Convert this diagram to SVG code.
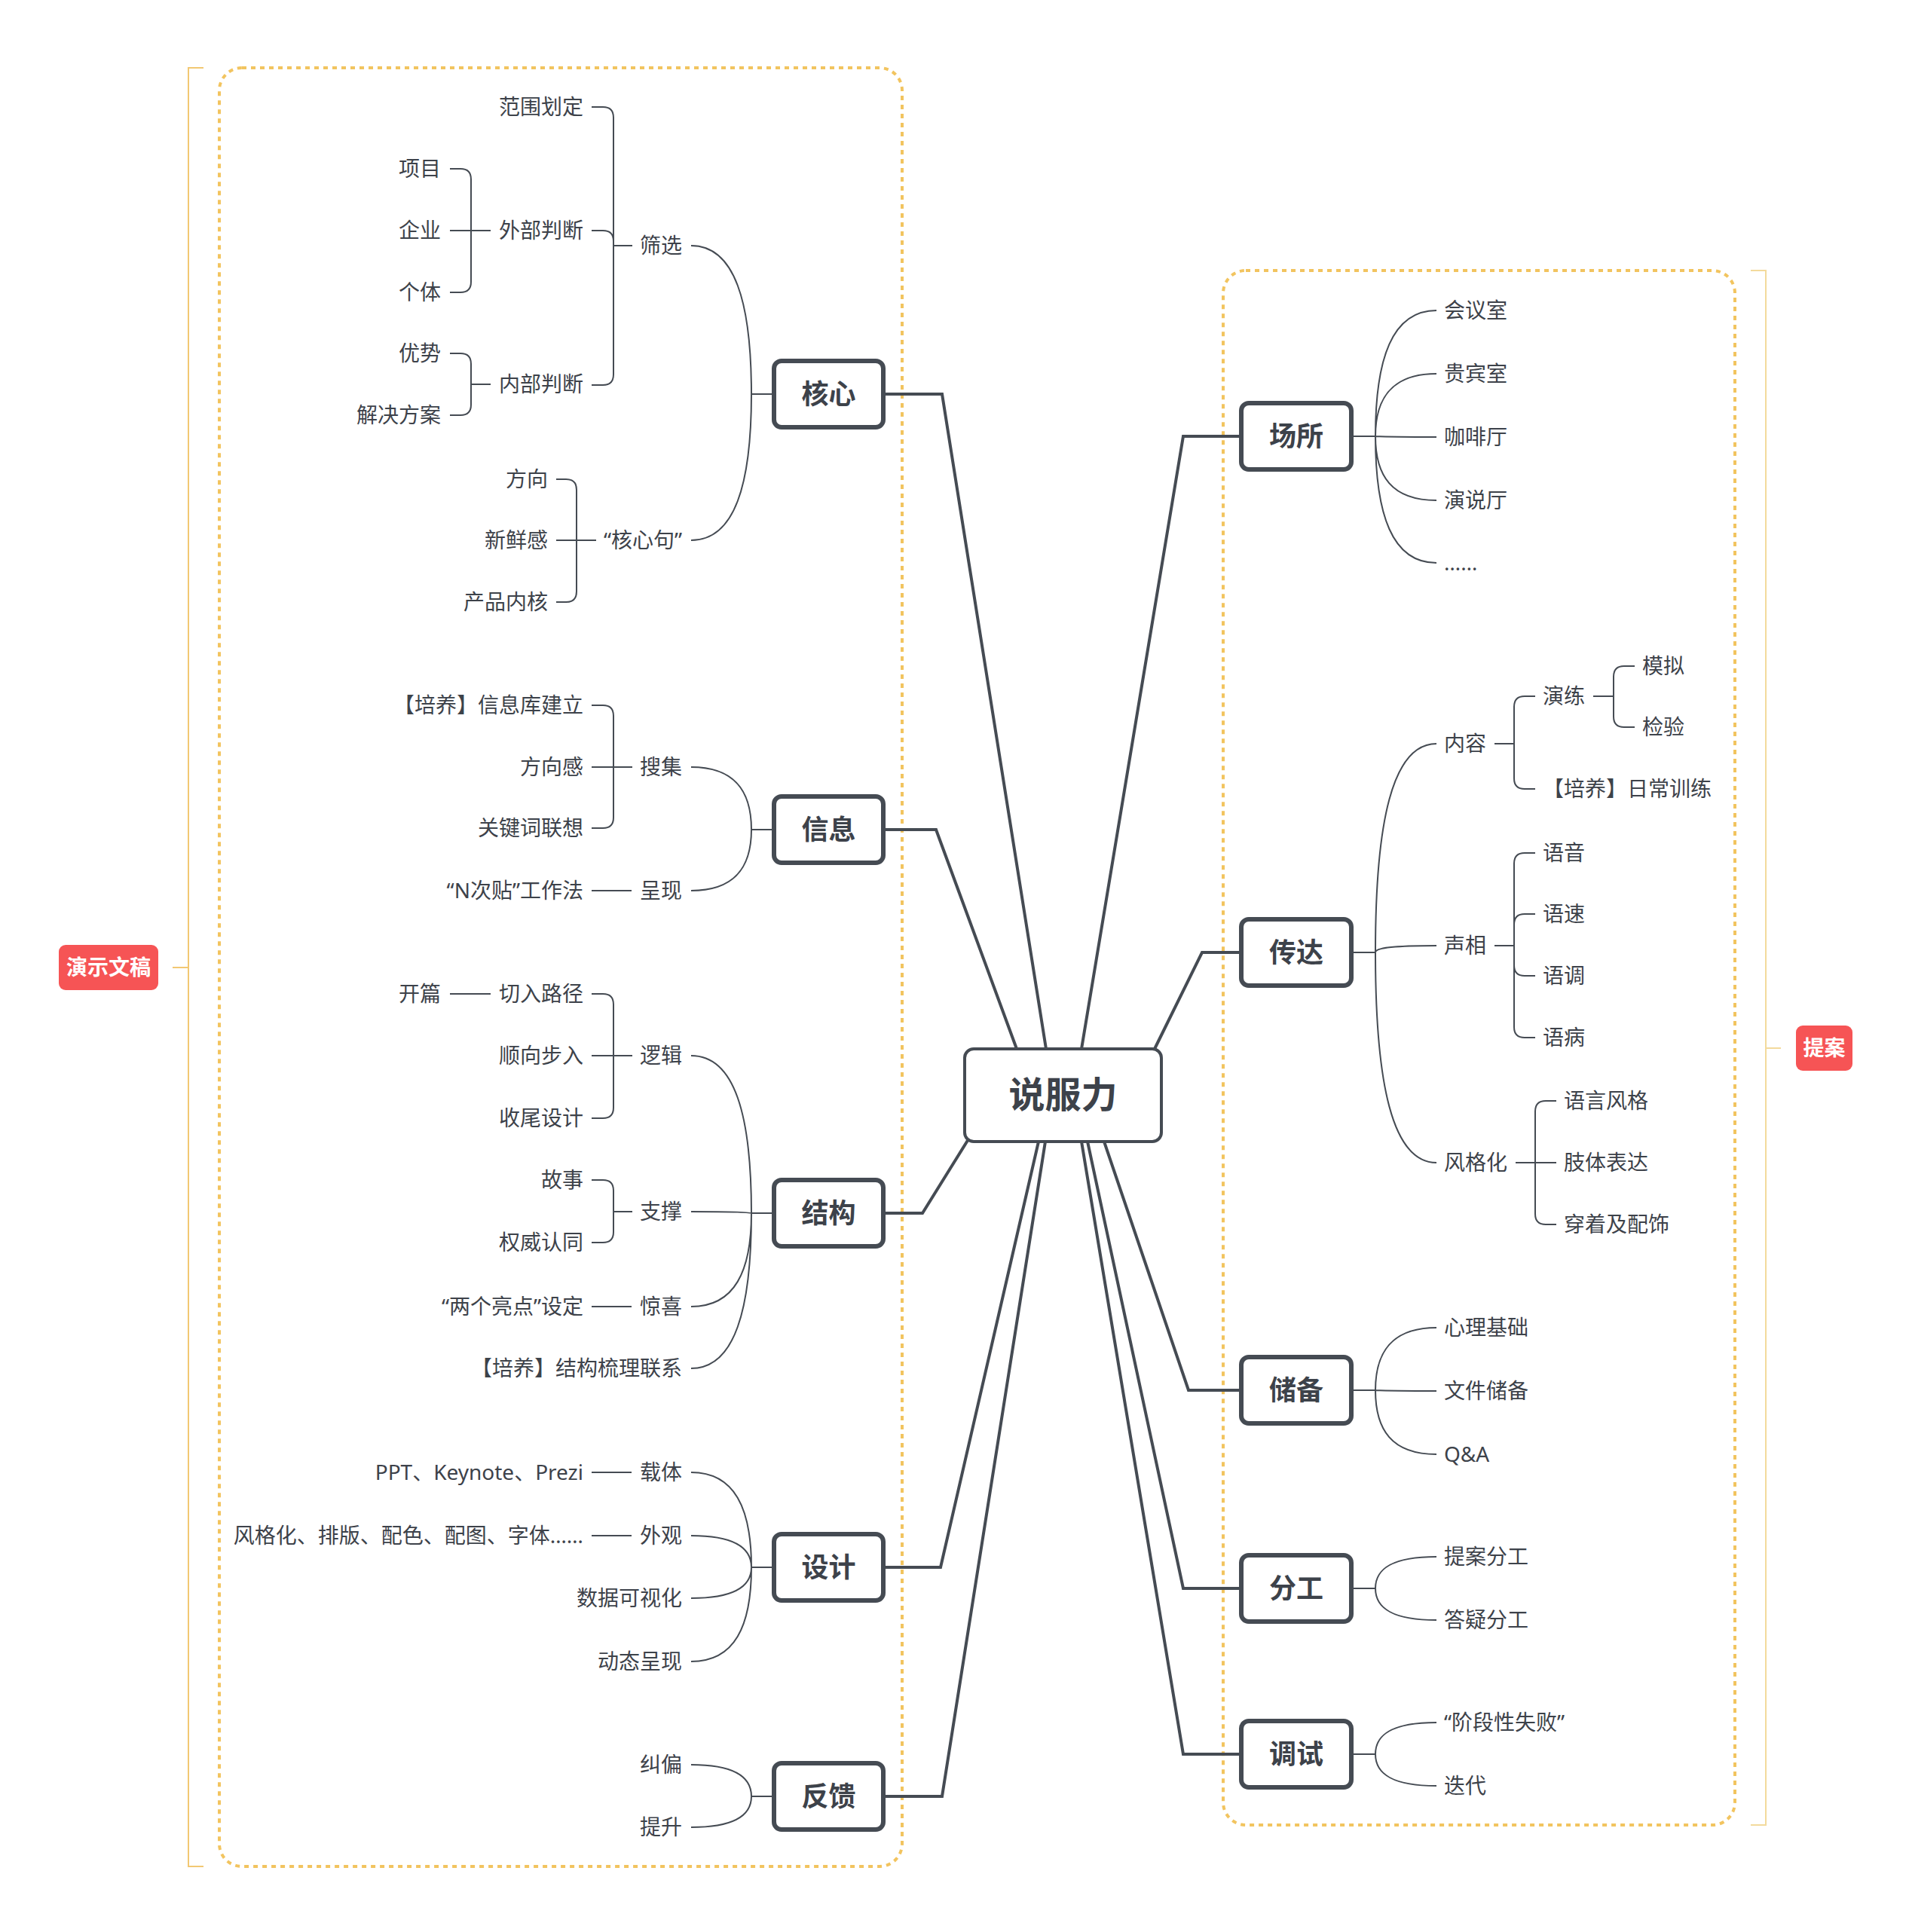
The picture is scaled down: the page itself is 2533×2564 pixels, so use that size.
<svg xmlns="http://www.w3.org/2000/svg" width="2533" height="2564" viewBox="0 0 2533 2564">
<style>
.t{font-family:"Noto Sans","Noto Sans CJK SC",sans-serif;font-size:28px;fill:#3D424A}
.e{text-anchor:end}
.bx{fill:#fff;stroke:#454B53;stroke-width:6}
.bt{font-family:"Noto Sans CJK SC",sans-serif;font-size:36px;font-weight:bold;fill:#3D424A;text-anchor:middle}
.ct{font-family:"Noto Sans CJK SC",sans-serif;font-size:48px;font-weight:bold;fill:#3D424A;text-anchor:middle}
.lb{fill:#F65455}
.lt{font-family:"Noto Sans CJK SC",sans-serif;font-size:28px;font-weight:bold;fill:#fff;text-anchor:middle}
.thin{fill:none;stroke:#454B53;stroke-width:2}
.main{fill:none;stroke:#454B53;stroke-width:4;stroke-linejoin:miter}
.dot{fill:none;stroke:#F2C45F;stroke-width:4;stroke-dasharray:6 6}
</style>
<rect width="2533" height="2564" fill="#fff"/>
<g id="boundaries">
<rect id="boundary-left" class="dot" x="291" y="90" width="906" height="2387" rx="30"/>
<rect id="boundary-right" class="dot" x="1623" y="359" width="679" height="2063" rx="30"/>
<path d="M270 90 H250 V2477 H270 M250 1284 H229" fill="none" stroke="#F2C873" stroke-width="2"/>
<path d="M2323 359 H2343 V2422 H2323 M2343 1391 H2363" fill="none" stroke="#F3DA9C" stroke-width="2"/>
</g>
<g id="connectors">
<g class="main">
<path d="M1388 1392 L1250 523 H1175"/>
<path d="M1349 1392 L1242 1101 H1175"/>
<path d="M1288 1507 L1224 1610 H1175"/>
<path d="M1378 1515 L1248 2080 H1175"/>
<path d="M1387 1515 L1250 2384 H1175"/>
<path d="M1435 1392 L1570 579 H1644"/>
<path d="M1532 1392 L1595 1264 H1644"/>
<path d="M1465 1515 L1577 1845 H1644"/>
<path d="M1443 1515 L1570 2108 H1644"/>
<path d="M1435 1515 L1570 2328 H1644"/>
</g>
<g class="thin">
<path d="M1027 523 H997 M917 326 C975 326 997 401 997 523 M917 717 C975 717 997 643 997 523"/>
<path d="M1027 1101 H997 M917 1018 C975 1018 997 1050 997 1101 M917 1182 C975 1182 997 1151 997 1101"/>
<path d="M1027 1610 H997 M917 1401 C975 1401 997 1480 997 1610 M917 1608 C975 1608 997 1609 997 1610 M917 1734 C975 1734 997 1687 997 1610 M917 1816 C975 1816 997 1738 997 1610"/>
<path d="M1027 2080 H997 M917 1954 C975 1954 997 2002 997 2080 M917 2038 C975 2038 997 2054 997 2080 M917 2121 C975 2121 997 2105 997 2080 M917 2205 C975 2205 997 2158 997 2080"/>
<path d="M1027 2384 H997 M917 2342 C975 2342 997 2358 997 2384 M917 2425 C975 2425 997 2409 997 2384"/>
<path d="M1793 579 H1825 M1906 412 C1847 412 1825 476 1825 579 M1906 496 C1847 496 1825 528 1825 579 M1906 580 C1847 580 1825 579 1825 579 M1906 664 C1847 664 1825 632 1825 579 M1906 747 C1847 747 1825 683 1825 579"/>
<path d="M1793 1264 H1825 M1906 987 C1847 987 1825 1092 1825 1264 M1906 1255 C1847 1255 1825 1258 1825 1264 M1906 1543 C1847 1543 1825 1437 1825 1264"/>
<path d="M1793 1845 H1825 M1906 1762 C1847 1762 1825 1794 1825 1845 M1906 1846 C1847 1846 1825 1845 1825 1845 M1906 1930 C1847 1930 1825 1898 1825 1845"/>
<path d="M1793 2108 H1825 M1906 2066 C1847 2066 1825 2082 1825 2108 M1906 2150 C1847 2150 1825 2134 1825 2108"/>
<path d="M1793 2328 H1825 M1906 2286 C1847 2286 1825 2302 1825 2328 M1906 2370 C1847 2370 1825 2354 1825 2328"/>
<path d="M785 142 H800 Q814 142 814 156 V497 Q814 511 800 511 H785 M785 306 H800 Q814 306 814 320 M814 326 H839"/>
<path d="M597 224 H611 Q625 224 625 238 V374 Q625 388 611 388 H597 M597 306 H651"/>
<path d="M597 469 H611 Q625 469 625 483 V537 Q625 551 611 551 H597 M625 510 H651"/>
<path d="M738 636 H751 Q765 636 765 650 V785 Q765 799 751 799 H738 M738 717 H791"/>
<path d="M785 936 H800 Q814 936 814 950 V1085 Q814 1099 800 1099 H785 M785 1018 H839"/>
<path d="M785 1182 H838"/>
<path d="M597 1319 H651"/>
<path d="M785 1319 H800 Q814 1319 814 1333 V1470 Q814 1484 800 1484 H785 M785 1401 H839"/>
<path d="M785 1566 H800 Q814 1566 814 1580 V1635 Q814 1649 800 1649 H785 M814 1608 H839"/>
<path d="M785 1734 H838"/>
<path d="M785 1954 H838"/>
<path d="M785 2038 H838"/>
<path d="M2037 924 H2023 Q2009 924 2009 938 V1033 Q2009 1047 2023 1047 H2037 M1983 987 H2009"/>
<path d="M2169 884 H2155 Q2141 884 2141 898 V951 Q2141 965 2155 965 H2169 M2114 924 H2141"/>
<path d="M2037 1132 H2023 Q2009 1132 2009 1146 V1363 Q2009 1377 2023 1377 H2037 M2037 1213 H2023 Q2009 1213 2009 1227 M2037 1295 H2023 Q2009 1295 2009 1281 M1983 1255 H2009"/>
<path d="M2065 1461 H2051 Q2037 1461 2037 1475 V1611 Q2037 1625 2051 1625 H2065 M2011 1543 H2065"/>
</g>
</g>
<g id="root">
<rect x="1280" y="1392" width="261" height="123" rx="12" fill="#fff" stroke="#454B53" stroke-width="4"/>
<text class="ct" x="1410.5" y="1470">说服力</text>
</g>
<g id="label-left"><rect class="lb" x="78" y="1254" width="132" height="60" rx="9"/><text class="lt" x="144" y="1294">演示文稿</text></g>
<g id="label-right"><rect class="lb" x="2383" y="1361" width="75" height="60" rx="9"/><text class="lt" x="2420.5" y="1401">提案</text></g>
<g id="n-hexin"><rect class="bx" x="1027" y="479" width="145" height="88" rx="10"/><text class="bt" x="1099.5" y="536">核心</text></g>
<g id="n-xinxi"><rect class="bx" x="1027" y="1057" width="145" height="88" rx="10"/><text class="bt" x="1099.5" y="1114">信息</text></g>
<g id="n-jiegou"><rect class="bx" x="1027" y="1566" width="145" height="88" rx="10"/><text class="bt" x="1099.5" y="1623">结构</text></g>
<g id="n-sheji"><rect class="bx" x="1027" y="2036" width="145" height="88" rx="10"/><text class="bt" x="1099.5" y="2093">设计</text></g>
<g id="n-fankui"><rect class="bx" x="1027" y="2340" width="145" height="88" rx="10"/><text class="bt" x="1099.5" y="2397">反馈</text></g>
<g id="n-changsuo"><rect class="bx" x="1647" y="535" width="146" height="88" rx="10"/><text class="bt" x="1720" y="592">场所</text></g>
<g id="n-chuanda"><rect class="bx" x="1647" y="1220" width="146" height="88" rx="10"/><text class="bt" x="1720" y="1277">传达</text></g>
<g id="n-chubei"><rect class="bx" x="1647" y="1801" width="146" height="88" rx="10"/><text class="bt" x="1720" y="1858">储备</text></g>
<g id="n-fengong"><rect class="bx" x="1647" y="2064" width="146" height="88" rx="10"/><text class="bt" x="1720" y="2121">分工</text></g>
<g id="n-tiaoshi"><rect class="bx" x="1647" y="2284" width="146" height="88" rx="10"/><text class="bt" x="1720" y="2341">调试</text></g>
<g id="leaves-left">
<g id="n-shaixuan"><text class="t e" x="905" y="336">筛选</text></g>
<g id="n-hexinju"><text class="t e" x="905" y="727">“核心句”</text></g>
<g id="n-souji"><text class="t e" x="905" y="1028">搜集</text></g>
<g id="n-chengxian"><text class="t e" x="905" y="1192">呈现</text></g>
<g id="n-luoji"><text class="t e" x="905" y="1411">逻辑</text></g>
<g id="n-zhicheng"><text class="t e" x="905" y="1618">支撑</text></g>
<g id="n-jingxi"><text class="t e" x="905" y="1744">惊喜</text></g>
<g id="n-jgsl"><text class="t e" x="905" y="1826">【培养】结构梳理联系</text></g>
<g id="n-zaiti"><text class="t e" x="905" y="1964">载体</text></g>
<g id="n-waiguan"><text class="t e" x="905" y="2048">外观</text></g>
<g id="n-sjksh"><text class="t e" x="905" y="2131">数据可视化</text></g>
<g id="n-dtcx"><text class="t e" x="905" y="2215">动态呈现</text></g>
<g id="n-jiupian"><text class="t e" x="905" y="2352">纠偏</text></g>
<g id="n-tisheng"><text class="t e" x="905" y="2435">提升</text></g>
<g id="n-fwhd"><text class="t e" x="774" y="152">范围划定</text></g>
<g id="n-wbpd"><text class="t e" x="774" y="316">外部判断</text></g>
<g id="n-nbpd"><text class="t e" x="774" y="520">内部判断</text></g>
<g id="n-xxk"><text class="t e" x="774" y="946">【培养】信息库建立</text></g>
<g id="n-fxg"><text class="t e" x="774" y="1028">方向感</text></g>
<g id="n-gjc"><text class="t e" x="774" y="1109">关键词联想</text></g>
<g id="n-ncit"><text class="t e" x="774" y="1192">“N次贴”工作法</text></g>
<g id="n-qrlj"><text class="t e" x="774" y="1329">切入路径</text></g>
<g id="n-sxbr"><text class="t e" x="774" y="1411">顺向步入</text></g>
<g id="n-swsj"><text class="t e" x="774" y="1494">收尾设计</text></g>
<g id="n-gushi"><text class="t e" x="774" y="1576">故事</text></g>
<g id="n-qwrt"><text class="t e" x="774" y="1659">权威认同</text></g>
<g id="n-lgld"><text class="t e" x="774" y="1744">“两个亮点”设定</text></g>
<g id="n-ppt"><text class="t e" x="774" y="1964">PPT、Keynote、Prezi</text></g>
<g id="n-fgh"><text class="t e" x="774" y="2048">风格化、排版、配色、配图、字体……</text></g>
<g id="n-fangxiang"><text class="t e" x="727" y="646">方向</text></g>
<g id="n-xxg"><text class="t e" x="727" y="727">新鲜感</text></g>
<g id="n-cpnh"><text class="t e" x="727" y="809">产品内核</text></g>
<g id="n-xiangmu"><text class="t e" x="585" y="234">项目</text></g>
<g id="n-qiye"><text class="t e" x="585" y="316">企业</text></g>
<g id="n-geti"><text class="t e" x="585" y="398">个体</text></g>
<g id="n-youshi"><text class="t e" x="585" y="479">优势</text></g>
<g id="n-jjfa"><text class="t e" x="585" y="561">解决方案</text></g>
<g id="n-kaipian"><text class="t e" x="585" y="1329">开篇</text></g>
</g>
<g id="leaves-right">
<g id="n-hys"><text class="t" x="1916" y="422">会议室</text></g>
<g id="n-gbs"><text class="t" x="1916" y="506">贵宾室</text></g>
<g id="n-kft"><text class="t" x="1916" y="590">咖啡厅</text></g>
<g id="n-yst"><text class="t" x="1916" y="674">演说厅</text></g>
<g id="n-etc"><text class="t" x="1916" y="757">……</text></g>
<g id="n-neirong"><text class="t" x="1916" y="997">内容</text></g>
<g id="n-shengxiang"><text class="t" x="1916" y="1265">声相</text></g>
<g id="n-fenggehua"><text class="t" x="1916" y="1553">风格化</text></g>
<g id="n-xljc"><text class="t" x="1916" y="1772">心理基础</text></g>
<g id="n-wjcb"><text class="t" x="1916" y="1856">文件储备</text></g>
<g id="n-qa"><text class="t" x="1916" y="1940">Q&amp;A</text></g>
<g id="n-tafg"><text class="t" x="1916" y="2076">提案分工</text></g>
<g id="n-dyfg"><text class="t" x="1916" y="2160">答疑分工</text></g>
<g id="n-jdxsb"><text class="t" x="1916" y="2296">“阶段性失败”</text></g>
<g id="n-diedai"><text class="t" x="1916" y="2380">迭代</text></g>
<g id="n-yanlian"><text class="t" x="2047" y="934">演练</text></g>
<g id="n-rcxl"><text class="t" x="2047" y="1057">【培养】日常训练</text></g>
<g id="n-yuyin"><text class="t" x="2047" y="1142">语音</text></g>
<g id="n-yusu"><text class="t" x="2047" y="1223">语速</text></g>
<g id="n-yudiao"><text class="t" x="2047" y="1305">语调</text></g>
<g id="n-yubing"><text class="t" x="2047" y="1387">语病</text></g>
<g id="n-yyfg"><text class="t" x="2075" y="1471">语言风格</text></g>
<g id="n-ztbd"><text class="t" x="2075" y="1553">肢体表达</text></g>
<g id="n-czpsh"><text class="t" x="2075" y="1635">穿着及配饰</text></g>
<g id="n-moni"><text class="t" x="2179" y="894">模拟</text></g>
<g id="n-jianyan"><text class="t" x="2179" y="975">检验</text></g>
</g>
</svg>
